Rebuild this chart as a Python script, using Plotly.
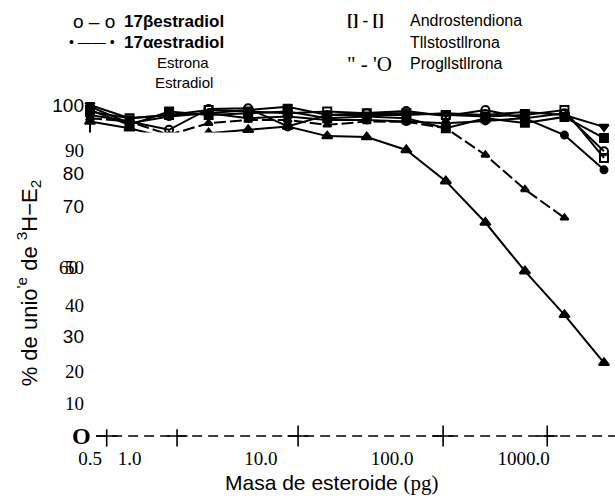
import plotly.graph_objects as go

# ---------------- data ----------------
masa_pg = [0.5, 1, 2, 4, 8, 16, 32, 64, 128, 256, 512, 1024, 2048, 4096]

estradiol_17b = [97.0, 95.0, 92.5, 98.8, 99.0, 93.5, 97.0, 97.5, 98.2, 96.7, 98.5, 96.0, 97.5, 86.0]
estradiol_17a = [99.5, 94.5, 96.5, 97.5, 96.0, 96.5, 95.5, 95.5, 95.0, 94.5, 95.2, 96.0, 90.9, 80.4]
estrona = [96.0, 95.0, 91.0, 94.5, 95.5, 95.5, 94.0, 95.0, 94.9, 93.0, 84.9, 74.5, 65.9, None]
estradiol = [95.0, 93.0, 90.0, 91.5, 92.5, 93.5, 90.6, 90.3, 86.4, 77.0, 64.5, 49.8, 36.6, 22.1]
androstendiona = [98.0, 96.0, 97.0, 98.5, 98.0, 97.5, 98.0, 97.5, 97.5, 97.0, 96.5, 97.0, 98.5, 84.0]
testosterona = [98.5, 94.0, 98.0, 97.0, 97.5, 98.0, 96.0, 96.5, 96.0, 93.0, 96.0, 94.6, 96.4, 90.0]
progesterona = [100.0, 96.0, 97.0, 97.5, 98.5, 99.5, 97.0, 97.0, 97.0, 97.5, 97.0, 97.9, 97.0, 93.4]

series_names = ["17βestradiol", "17αestradiol", "Estrona", "Estradiol",
                "Androstendiona", "Tllstostllrona", "Progllstllrona"]

x_tick_vals = [0.5, 1, 10, 100, 1000]
x_tick_text = ["0.5", "1.0", "10.0", "100.0", "1000.0"]

y_tick_vals = [100, 86.4, 79.5, 69.5, 51, 39.6, 30, 19.6, 10]
y_tick_text = ["100", "90", "80", "70", "50", "40", "30", "20", "10"]
y_tick_serif = [False, True, False, False, True, True, False, True, True]
y_extra_label_val = 51
y_extra_label = "60"
y_zero_label = "O"

axis_cross_x = [0.67, 2.3, 19.2, 244, 1514]

# ---------------- styles ----------------
SANS = "Liberation Sans"
SERIF = "Liberation Serif"
INK = "black"

styles = [
    dict(symbol="circle-open", size=8, dash="solid"),
    dict(symbol="circle", size=7, dash="solid"),
    dict(symbol="triangle-up", size=7, dash="12px,4px"),
    dict(symbol="triangle-up", size=9, dash="solid"),
    dict(symbol="square-open", size=8, dash="solid"),
    dict(symbol="square", size=8, dash="solid"),
    dict(symbol="triangle-down", size=8, dash="solid"),
]
all_series = [estradiol_17b, estradiol_17a, estrona, estradiol,
              androstendiona, testosterona, progesterona]

fig = go.Figure()
for name, vals, st in zip(series_names, all_series, styles):
    fig.add_trace(go.Scatter(
        x=masa_pg, y=vals, name=name, mode="lines+markers",
        line=dict(color=INK, width=2, dash=st["dash"]),
        marker=dict(symbol=st["symbol"], size=st["size"], color=INK,
                    line=dict(color=INK, width=2)),
        cliponaxis=False, showlegend=False,
    ))

# "+" marks on the dashed x axis
fig.add_trace(go.Scatter(
    x=axis_cross_x, y=[0] * len(axis_cross_x), mode="markers",
    marker=dict(symbol="cross-thin", size=15, line=dict(color=INK, width=1.6)),
    cliponaxis=False, showlegend=False, hoverinfo="skip",
))

ytext = []
for t, serif in zip(y_tick_text, y_tick_serif):
    fam = SERIF if serif else SANS
    ytext.append(f"<span style='font-family:{fam}'>{t}</span>")

fig.update_layout(
    width=615, height=496,
    margin=dict(l=85, r=0, t=95, b=51, autoexpand=False),
    paper_bgcolor="white", plot_bgcolor="white",
    font=dict(family=SANS, color=INK),
    xaxis=dict(type="log", range=[-0.3391, 3.6961], showgrid=False, zeroline=False,
               showline=False, ticks="", tickvals=x_tick_vals, ticktext=x_tick_text,
               automargin=False,
               tickfont=dict(family=SERIF, size=19, color=INK)),
    yaxis=dict(range=[-2.72, 103.02], showgrid=False, zeroline=False, showline=False,
               ticks="", tickvals=y_tick_vals, ticktext=ytext, automargin=False,
               tickfont=dict(family=SANS, size=19, color=INK)),
)

# y axis line, blank patch of the scan, dashed x axis
fig.add_shape(type="line", xref="x", yref="y", x0=masa_pg[0], x1=masa_pg[0],
              y0=y_tick_vals[-1], y1=y_tick_vals[0],
              line=dict(color=INK, width=2), layer="below")
fig.add_shape(type="rect", xref="paper", yref="paper", x0=0.0, x1=0.285, y0=0.045, y1=0.893,
              fillcolor="white", line=dict(width=0), layer="above")
fig.add_shape(type="line", xref="paper", yref="y", x0=0.021, x1=1.0, y0=0, y1=0,
              line=dict(color=INK, width=1.6, dash="10px,6px"), layer="above")

ann = []
def A(text, x, y, size, family=SANS, xanchor="left", **kw):
    ann.append(dict(text=text, x=x, y=y, xref="paper", yref="paper", showarrow=False,
                    xanchor=xanchor, yanchor="middle",
                    font=dict(family=family, size=size, color=INK), **kw))

# extra y labels
ann.append(dict(text=y_extra_label, x=-0.0094, y=y_extra_label_val, xref="paper", yref="y",
                showarrow=False, xanchor="right", yanchor="middle",
                font=dict(family=SERIF, size=19, color=INK)))
ann.append(dict(text=f"<b>{y_zero_label}</b>", x=0.016, y=0, xref="paper", yref="y",
                showarrow=False, xanchor="right", yanchor="middle",
                font=dict(family=SERIF, size=24, color=INK)))

# axis titles
A("Masa de esteroide <span style='font-family:Liberation Serif'>(pg)</span>",
  0.466, -0.109, 21, xanchor="center")
A("% de unio<sup>'e</sup> de <sup>3</sup>H−E<sub>2</sub>", -0.105, 0.463, 22,
  xanchor="center", textangle=-90)

# legend (text block as in the figure)
A("o – o", 0.0604, 1.211, 19, xanchor="right")
A("<b>" + series_names[0] + "</b>", 0.0698, 1.211, 17)
A("• —— •", 0.0604, 1.151, 14, xanchor="right")
A("<b>" + series_names[1] + "</b>", 0.0698, 1.151, 17)
A(series_names[2], 0.132, 1.094, 15)
A(series_names[3], 0.128, 1.037, 15)
A("<b>[] - []</b>", 0.4906, 1.214, 17, family=SERIF)
A(series_names[4], 0.6094, 1.214, 16)
A(series_names[5], 0.6094, 1.149, 16)
A("\" - 'O", 0.4906, 1.089, 21, family=SERIF)
A(series_names[6], 0.6094, 1.089, 16)

fig.update_layout(annotations=ann)
fig.write_html("out.html", config={"displayModeBar": False},
               post_script="document.body.style.margin='0px';document.body.style.overflow='hidden';")
